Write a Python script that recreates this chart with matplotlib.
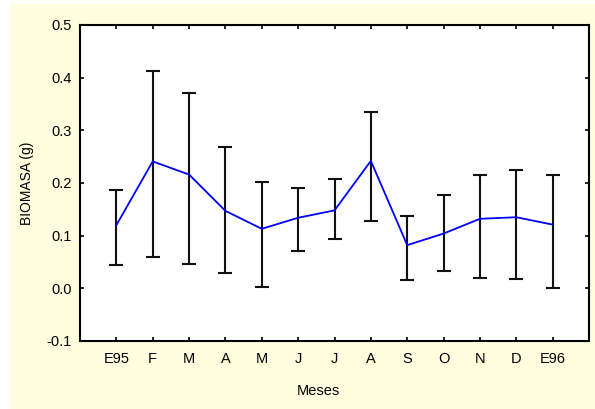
import matplotlib

matplotlib.use("Agg")
import matplotlib.pyplot as plt
from matplotlib.patches import Rectangle
import numpy as np

MONTHS = ["E95", "F", "M", "A", "M", "J", "J", "A", "S", "O", "N", "D", "E96"]
MEAN = [0.120, 0.241, 0.216, 0.147, 0.113, 0.134, 0.148, 0.242, 0.082, 0.104, 0.132, 0.135, 0.121]
UPPER = [0.186, 0.413, 0.371, 0.268, 0.202, 0.191, 0.207, 0.335, 0.137, 0.177, 0.216, 0.224, 0.216]
LOWER = [0.044, 0.059, 0.046, 0.029, 0.002, 0.071, 0.093, 0.127, 0.015, 0.033, 0.020, 0.018, 0.001]

plt.rcParams["font.family"] = ["Liberation Sans", "DejaVu Sans"]

W, H = 595, 409
fig = plt.figure(figsize=(W / 100, H / 100), dpi=100, facecolor="white")
# yellow panel behind the plot
fig.add_artist(Rectangle((10 / W, 0), 585 / W, 405 / H, transform=fig.transFigure,
                         facecolor="#FFFFE0", edgecolor="none", zorder=-10))

ax = fig.add_axes([80 / W, 1 - 341 / H, (589 - 80) / W, (341 - 25) / H])
ax.set_zorder(1)
ax.set_facecolor("white")

x = np.arange(1, len(MONTHS) + 1)
mean = np.array(MEAN)
yerr = np.vstack([mean - np.array(LOWER), np.array(UPPER) - mean])
ax.errorbar(x, mean, yerr=yerr, fmt="none", ecolor="#111111", elinewidth=1.5,
            capsize=5, capthick=1.5, zorder=2)
ax.plot(x, mean, color="#0000FF", linewidth=1.3, zorder=3)

ax.set_xlim(0, 14)
ax.set_ylim(-0.1, 0.5)
ax.set_xticks(x)
ax.set_xticklabels(MONTHS)
ax.set_yticks(np.arange(-0.1, 0.51, 0.1))
ax.set_yticklabels(["-0.1", "0.0", "0.1", "0.2", "0.3", "0.4", "0.5"])
ax.tick_params(direction="in", length=3, width=1.2, top=True, right=True,
               labelsize=10.5, colors="black")
ax.tick_params(axis="y", pad=6)
ax.tick_params(axis="x", pad=8)
for s in ax.spines.values():
    s.set_linewidth(1.5)

ax.set_ylabel("BIOMASA (g)", fontsize=10)
ax.yaxis.set_label_coords(-0.09, 0.5)
ax.set_xlabel("Meses", fontsize=10.5)
ax.xaxis.set_label_coords((318 - 80) / (589 - 80), -0.137)

fig.savefig("out.png", dpi=100, facecolor="white")
